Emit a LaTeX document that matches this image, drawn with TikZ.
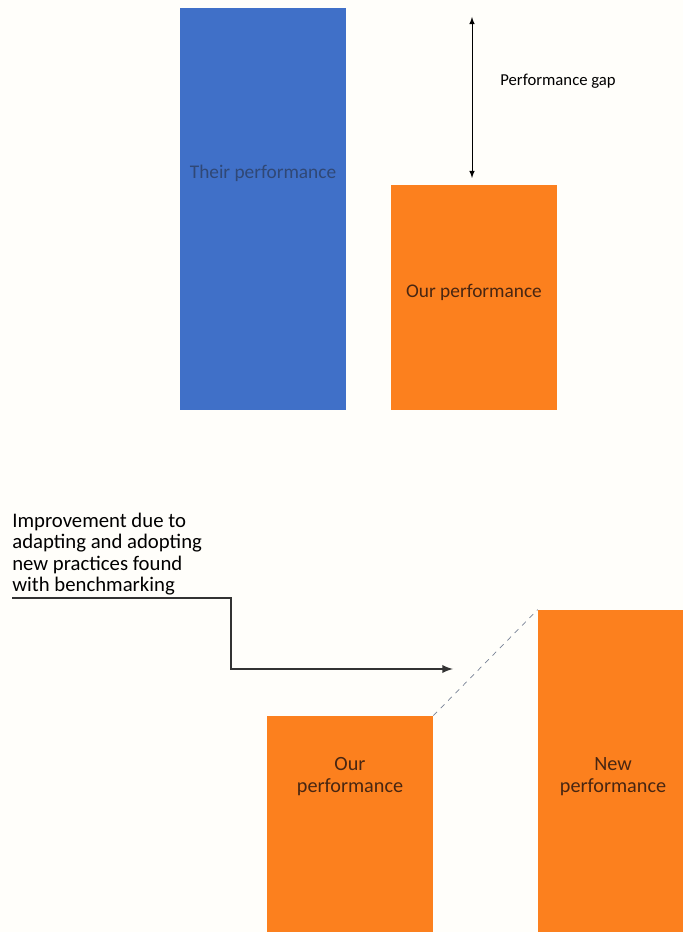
\documentclass[tikz,border=0pt]{standalone}
\usepackage{fontspec}
\setmainfont{Carlito}
\usepackage{tikz}
\usetikzlibrary{positioning}
\usetikzlibrary{shapes,arrows}

\definecolor{barblue}{RGB}{64,112,200}
\definecolor{barorange}{RGB}{252,128,30}
\definecolor{bluetext}{RGB}{48,72,118}
\definecolor{orangetext}{RGB}{72,38,18}
\definecolor{paper}{RGB}{255,254,250}
\definecolor{dashgray}{RGB}{120,130,150}

\begin{document}
\begin{tikzpicture}
\tikzstyle{bar}=[rectangle, inner sep=0pt, minimum width=3.32cm]
\tikzstyle{bartext}=[align=center, font=\fontsize{11.5}{12.5}\selectfont]
\tikzstyle{note}=[align=left, anchor=west, inner sep=0pt]
\tikzstyle{connect}=[-latex, line width=1.1pt, draw=black!80]

	\fill[paper] (0,0) rectangle (13.66,18.64);
	\useasboundingbox (0,0) rectangle (13.66,18.64);

	% before
	\node[bar, fill=barblue, minimum height=8.04cm] (their) at (5.26,14.46) {};
	\node[bar, fill=barorange, minimum height=4.5cm] (our_1) at (9.48,12.69) {};
	\node[bartext, text=bluetext, font=\fontsize{11}{12}\selectfont] (their_t) at (5.26,15.18) {Their performance};
	\node[bartext, text=orangetext, font=\fontsize{11}{12}\selectfont] (our_1t) at (9.48,12.8) {Our performance};

	\coordinate (gap_top) at (9.44,18.3);
	\coordinate (gap_bot) at (9.44,15.08);
	\node[note, font=\fontsize{9.5}{11}\selectfont] (gap) at (10.0,17.02) {Performance gap};

	% after
	\node[bar, fill=barorange, minimum height=4.32cm] (our_2) at (7.0,2.16) {};
	\node[bar, fill=barorange, minimum width=2.9cm, minimum height=6.44cm] (new) at (12.21,3.22) {};
	\node[bartext, text=orangetext] (our_2t) at (7.0,3.1) {Our\\performance};
	\node[bartext, text=orangetext] (new_t) at (12.26,3.1) {New\\performance};

	\node[note, font=\fontsize{11.8}{12.1}\selectfont] (impr) at (0.24,7.56)
		{Improvement due to\\adapting and adopting\\new practices found\\with benchmarking};
	\coordinate (impr_a) at (0.24,6.68);
	\coordinate (impr_b) at (4.62,6.68);
	\coordinate (impr_c) at (4.62,5.26);
	\coordinate (impr_d) at (9.06,5.26);

	\path
	 (gap_top) edge[latex-latex, thin] (gap_bot)
	 (our_2.north east) edge[dashed, thin, dashgray] (new.north west);
	\draw[connect] (impr_a) -- (impr_b) -- (impr_c) -- (impr_d);

\end{tikzpicture}
\end{document}
